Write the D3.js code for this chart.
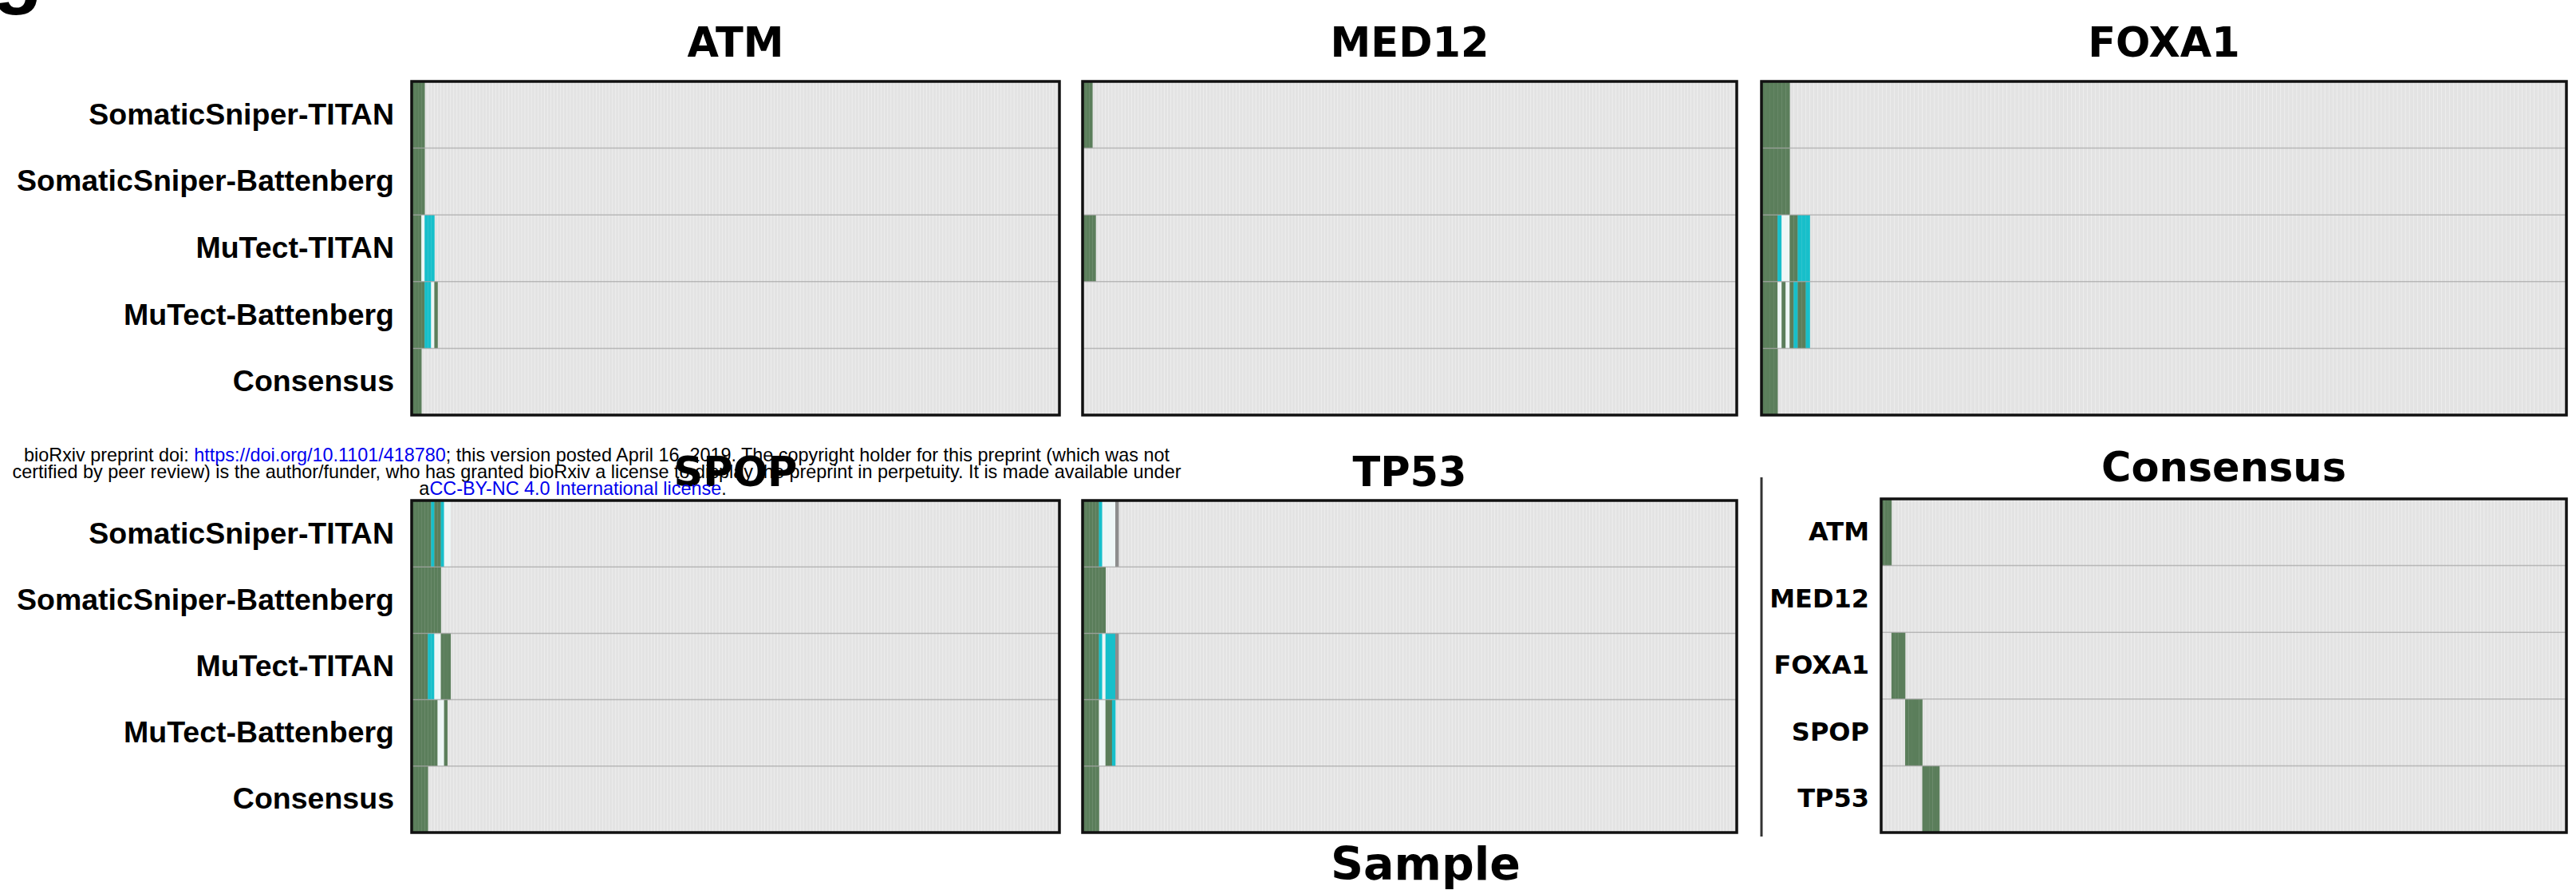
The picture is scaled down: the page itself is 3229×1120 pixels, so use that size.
<!DOCTYPE html>
<html>
<head>
<meta charset="utf-8">
<script src="https://cdn.jsdelivr.net/npm/d3@7"></script>
<style>
  html, body { margin: 0; padding: 0; background: #fff; }
  svg { display: block; }
</style>
</head>
<body>
<div id="chart"></div>
<script>
const WIDTH = 3229;
const HEIGHT = 1120;

// samples along x (same cohort in every panel)
const N_SAMPLES = 200;

const callers = [
  'SomaticSniper-TITAN',
  'SomaticSniper-Battenberg',
  'MuTect-TITAN',
  'MuTect-Battenberg',
  'Consensus'
];
const genes = ['ATM', 'MED12', 'FOXA1', 'SPOP', 'TP53'];

// one letter per leading sample, rest of the row is empty
// G = called, C = caller-specific call, W = pale / low support, K = grey, . = none
const atmCalls   = ['GGGG', 'GGGG', 'GGGWCCC', 'GGGGCCWG', 'GGG'];
const med12Calls = ['GGG', '', 'GGGG', '', ''];
const foxa1Calls = ['GGGGGGG', 'GGGGGGG', 'GGGGCWWGGCCC', 'GGGGWGWGCGGC', 'GGGG'];
const spopCalls  = ['GGGGGGCGGCWW', 'GGGGGGGGG', 'GGGGGCCWWGGG', 'GGGGGGGGWWG', 'GGGGG'];
const tp53Calls  = ['GGGGGCWWWWK', 'GGGGGGG', 'GGGGGCWCCCK', 'GGGGGWWGGC', 'GGGGG'];
const consensusCalls = ['GGG', '', '...GGGG', '.......GGGGG', '............GGGGG'];

const statusColors = { G: '#5b7e5b', C: '#17bfca', W: '#eef6f6', K: '#8d8d8d' };

// layout: panel boxes [x0, y0, x1, y1] in page pixels
const layout = {
  ATM:       { box: [516, 102, 1328, 520],  titleY: 71,  labels: true },
  MED12:     { box: [1357, 102, 2177, 520], titleY: 71,  labels: false },
  FOXA1:     { box: [2208, 102, 3217, 520], titleY: 71,  labels: false },
  SPOP:      { box: [516, 627, 1328, 1043], titleY: 609, labels: true },
  TP53:      { box: [1357, 627, 2177, 1043], titleY: 609, labels: false },
  Consensus: { box: [2358, 625, 3217, 1043], titleY: 603, labels: true }
};

const panels = [
  { title: 'ATM', rows: callers, calls: atmCalls, labelFont: 'sans' },
  { title: 'MED12', rows: callers, calls: med12Calls, labelFont: 'sans' },
  { title: 'FOXA1', rows: callers, calls: foxa1Calls, labelFont: 'sans' },
  { title: 'SPOP', rows: callers, calls: spopCalls, labelFont: 'sans' },
  { title: 'TP53', rows: callers, calls: tp53Calls, labelFont: 'sans' },
  { title: 'Consensus', rows: genes, calls: consensusCalls, labelFont: 'dejavu' }
];

const svg = d3.select('#chart')
  .append('svg')
  .attr('width', WIDTH)
  .attr('height', HEIGHT);

// cut-off panel letter in the corner
svg.append('text')
  .attr('x', -10)
  .attr('y', -3)
  .attr('font-family', 'Liberation Sans, Arial, sans-serif')
  .attr('font-weight', 'bold')
  .attr('font-size', 104)
  .text('g');

function drawPanel(p) {
  const cfg = layout[p.title];
  const [x0, y0, x1, y1] = cfg.box;

  const x = d3.scaleBand().domain(d3.range(N_SAMPLES)).range([x0, x1]);
  const y = d3.scaleBand().domain(p.rows).range([y0, y1]);

  const g = svg.append('g').attr('class', 'panel');

  // sample columns (light striped background)
  g.append('g')
    .selectAll('rect')
    .data(x.domain())
    .join('rect')
    .attr('x', (d) => x(d))
    .attr('y', y0)
    .attr('width', x.bandwidth())
    .attr('height', y1 - y0)
    .attr('fill', '#e3e3e3')
    .attr('stroke', '#eeeeee')
    .attr('stroke-width', 0.7);

  // calls
  const cells = [];
  p.rows.forEach((row, i) => {
    Array.from(p.calls[i]).forEach((code, j) => {
      if (statusColors[code]) cells.push({ row, sample: j, code });
    });
  });

  g.append('g')
    .selectAll('rect')
    .data(cells)
    .join('rect')
    .attr('x', (d) => x(d.sample))
    .attr('y', (d) => y(d.row))
    .attr('width', x.bandwidth() + 0.3)
    .attr('height', y.bandwidth())
    .attr('fill', (d) => statusColors[d.code]);

  // row separators
  g.append('g')
    .selectAll('line')
    .data(p.rows.slice(1))
    .join('line')
    .attr('x1', x0)
    .attr('x2', x1)
    .attr('y1', (d) => y(d))
    .attr('y2', (d) => y(d))
    .attr('stroke', '#a5a5a5')
    .attr('stroke-width', 1.5)
    .attr('opacity', 0.7);

  // frame
  g.append('rect')
    .attr('x', x0)
    .attr('y', y0)
    .attr('width', x1 - x0)
    .attr('height', y1 - y0)
    .attr('fill', 'none')
    .attr('stroke', '#111')
    .attr('stroke-width', 3.5);

  // title
  g.append('text')
    .attr('x', (x0 + x1) / 2)
    .attr('y', cfg.titleY)
    .attr('text-anchor', 'middle')
    .attr('font-family', 'DejaVu Sans, sans-serif')
    .attr('font-weight', 'bold')
    .attr('font-size', 51)
    .text(p.title);

  if (!cfg.labels) return;

  const axis = g.append('g')
    .attr('transform', `translate(${x0},0)`)
    .call(d3.axisLeft(y).tickSize(0).tickPadding(p.labelFont === 'dejavu' ? 15 : 22));
  axis.select('.domain').remove();
  axis.selectAll('text')
    .attr('fill', '#000')
    .attr('font-weight', 'bold')
    .attr('font-family', p.labelFont === 'dejavu'
      ? 'DejaVu Sans, sans-serif'
      : 'Liberation Sans, Arial, sans-serif')
    .attr('font-size', p.labelFont === 'dejavu' ? 32 : 37.5);
}

panels.forEach(drawPanel);

// divider between gene panels and the consensus summary
svg.append('line')
  .attr('x1', 2208)
  .attr('x2', 2208)
  .attr('y1', 598)
  .attr('y2', 1048)
  .attr('stroke', '#333')
  .attr('stroke-width', 3);

svg.append('text')
  .attr('x', 1787)
  .attr('y', 1102)
  .attr('text-anchor', 'middle')
  .attr('font-family', 'DejaVu Sans, sans-serif')
  .attr('font-weight', 'bold')
  .attr('font-size', 57)
  .text('Sample');

// preprint stamp over the figure
const stamp = svg.append('g')
  .attr('font-family', 'Liberation Sans, Arial, sans-serif')
  .attr('font-size', 23.4)
  .attr('text-anchor', 'middle');

const line1 = stamp.append('text').attr('x', 748).attr('y', 578);
line1.append('tspan').text('bioRxiv preprint doi: ');
line1.append('tspan').attr('fill', '#0000ee').text('https://doi.org/10.1101/418780');
line1.append('tspan').text('; this version posted April 16, 2019. The copyright holder for this preprint (which was not');

stamp.append('text')
  .attr('x', 748)
  .attr('y', 599)
  .text('certified by peer review) is the author/funder, who has granted bioRxiv a license to display the preprint in perpetuity. It is made available under');

const line3 = stamp.append('text').attr('x', 718).attr('y', 620);
line3.append('tspan').text('a');
line3.append('tspan').attr('fill', '#0000ee').text('CC-BY-NC 4.0 International license');
line3.append('tspan').text('.');
</script>
</body>
</html>
